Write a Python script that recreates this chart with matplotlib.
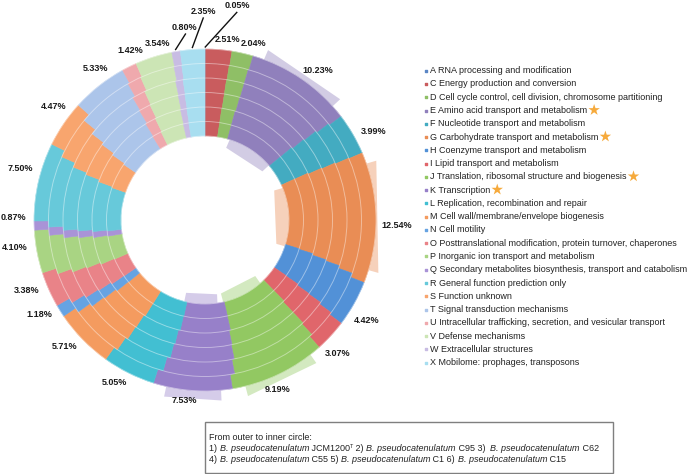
import matplotlib.pyplot as plt
import numpy as np

plt.rcParams['font.family'] = ['Liberation Sans', 'DejaVu Sans']

W, H = 696, 474
cx, cy = 205, H - 220
R = 171
hole = 84

codes = list("ACDEFGHIJKLMNOPQRSTUVWX")
names = [
    "RNA processing and modification",
    "Energy production and conversion",
    "Cell cycle control, cell division, chromosome partitioning",
    "Amino acid transport and metabolism",
    "Nucleotide transport and metabolism",
    "Carbohydrate transport and metabolism",
    "Coenzyme transport and metabolism",
    "Lipid transport and metabolism",
    "Translation, ribosomal structure and biogenesis",
    "Transcription",
    "Replication, recombination and repair",
    "Cell wall/membrane/envelope biogenesis",
    "Cell motility",
    "Posttranslational modification, protein turnover, chaperones",
    "Inorganic ion transport and metabolism",
    "Secondary metabolites biosynthesis, transport and catabolism",
    "General function prediction only",
    "Function unknown",
    "Signal transduction mechanisms",
    "Intracellular trafficking, secretion, and vesicular transport",
    "Defense mechanisms",
    "Extracellular structures",
    "Mobilome: prophages, transposons",
]
colors = [
    "#5a86c5", "#c95c5e", "#8fbf66", "#9080bc", "#43abc1", "#e98d55",
    "#5291d7", "#e0666b", "#92c862", "#9780c9", "#42bfd2", "#f49b5f",
    "#66a3e2", "#e98388", "#a9d483", "#a993d7", "#67c9da", "#f8a56e",
    "#acc5ea", "#efa9ad", "#cce5b5", "#c8bce3", "#a8def0",
]

# from outer to inner circle (%)
jcm1200 = [0.05, 2.51, 2.04, 10.23, 3.99, 12.54, 4.42, 3.07, 9.19, 7.53, 5.05, 5.71,
           1.18, 3.38, 4.10, 0.87, 7.50, 4.47, 5.33, 1.42, 3.54, 0.80, 2.35]
c95 = [0.05, 2.45, 2.00, 10.10, 4.10, 12.10, 4.60, 3.00, 9.00, 7.40, 5.20, 5.60,
       1.15, 3.30, 4.05, 0.85, 7.40, 4.40, 5.90, 1.45, 3.60, 0.80, 2.40]
c62 = [0.05, 2.40, 2.05, 9.90, 4.20, 11.90, 4.70, 3.05, 8.90, 7.30, 5.30, 5.50,
       1.20, 3.25, 4.00, 0.85, 7.30, 4.35, 6.20, 1.50, 3.70, 0.85, 2.50]
c55 = [0.05, 2.40, 2.00, 9.80, 4.25, 11.80, 4.80, 3.10, 8.80, 7.25, 5.35, 5.45,
       1.20, 3.20, 3.95, 0.85, 7.25, 4.30, 6.40, 1.50, 3.75, 0.85, 2.55]
c1 = [0.05, 2.35, 1.95, 9.70, 4.30, 11.70, 4.85, 3.10, 8.75, 7.20, 5.40, 5.40,
      1.20, 3.20, 3.95, 0.85, 7.20, 4.30, 6.50, 1.55, 3.80, 0.90, 2.60]
c15 = [0.05, 2.35, 1.95, 9.65, 4.30, 11.60, 4.90, 3.15, 8.70, 7.15, 5.45, 5.35,
       1.20, 3.15, 3.90, 0.85, 7.15, 4.25, 6.60, 1.55, 3.85, 0.90, 2.65]
rings = [jcm1200, c95, c62, c55, c1, c15]

starred = ["E", "G", "J", "K"]
# labels drawn with a leader line: (angle, radius) of the text
leader = {"A": (8.7, 217), "X": (359.5, 209), "W": (354.0, 194)}

fig = plt.figure(figsize=(W / 100, H / 100), dpi=100)
ax = fig.add_axes([0, 0, 1, 1])

width = (R - hole) / len(rings)
bounds = np.cumsum([0] + jcm1200) / sum(jcm1200) * 360


def polar(theta, r):
    t = np.radians(theta)
    return cx + r * np.sin(t), cy + r * np.cos(t)


# translucent backdrop behind the highlighted categories
for code in starred:
    i = codes.index(code)
    t1, t2 = bounds[i], bounds[i + 1]
    pts = [polar(t1, 0.44 * R), polar(t1 + 4, 1.06 * R),
           polar(t2 - 4.5, 1.06 * R), polar(t2 - 3, 0.44 * R)]
    ax.add_patch(plt.Polygon(pts, closed=True, facecolor=colors[i], alpha=0.4,
                             edgecolor='none', zorder=0.5))

for k, vals in enumerate(rings):
    wedges, _ = ax.pie(vals, colors=colors, radius=R - k * width, center=(cx, cy),
                       startangle=90, counterclock=False,
                       wedgeprops=dict(width=width, linewidth=0.4))
    for w in wedges:
        w.set_edgecolor(w.get_facecolor())
        w.set_zorder(1)

for k in range(len(rings) + 1):
    ax.add_patch(plt.Circle((cx, cy), hole + k * width, fill=False,
                            edgecolor='white', linewidth=0.7, alpha=0.4, zorder=2))

ax.set_xlim(0, W)
ax.set_ylim(0, H)
ax.set_aspect('auto')
ax.axis('off')

# percentage labels of the outer circle
for i, v in enumerate(jcm1200):
    txt = f"{v:.2f}%"
    mid = (bounds[i] + bounds[i + 1]) / 2
    if codes[i] in leader:
        ta, tr = leader[codes[i]]
        x0, y0 = polar(mid, R + 2)
        x1, y1 = polar(ta, tr - 7)
        ax.plot([x0, x1], [y0, y1], color='#111111', lw=1.0, zorder=3)
        tx, ty = polar(ta, tr)
    else:
        ang = mid + 2.5
        tx, ty = polar(ang, R + 9 + 12 * abs(np.sin(np.radians(ang))))
    ax.text(tx, ty, txt, ha='center', va='center', fontsize=6.5,
            fontweight='bold', color='#1a1a1a')

# legend
leg_texts = {}
for j, code in enumerate(codes):
    y = H - (70.7 + j * 13.27)
    ax.scatter([426], [y], marker='s', s=4, color=colors[j], zorder=3)
    leg_texts[code] = ax.text(429.5, y, f"{code} {names[j]}", ha='left', va='center',
                              fontsize=6.5, color='#222222')

fig.canvas.draw()
renderer = fig.canvas.get_renderer()
inv = ax.transData.inverted()


def right_edge(t):
    return inv.transform((t.get_window_extent(renderer).x1, 0))[0]


for code in starred:
    t = leg_texts[code]
    ax.scatter([right_edge(t) + 7.5], [t.get_position()[1] + 0.5], marker='*', s=75,
               color='#f6aa3c', edgecolors='none', zorder=3)

# strain box
ax.add_patch(plt.Rectangle((205, H - 473), 408, 51, fill=False,
                           edgecolor='#7f7f7f', linewidth=1.0))
bp = ("B. pseudocatenulatum", "italic")
box_lines = [
    [("From outer to inner circle:", "normal")],
    [("1) ", "normal"), bp, (" JCM1200", "normal"), ("T", "sup"), (" 2) ", "normal"), bp,
     (" C95 3)  ", "normal"), bp, (" C62", "normal")],
    [("4) ", "normal"), bp, (" C55 5) ", "normal"), bp, (" C1 6) ", "normal"), bp,
     (" C15", "normal")],
]
for n, parts in enumerate(box_lines):
    x = 209
    y = H - (438 + n * 10.6)
    for s, style in parts:
        if style == "sup":
            t = ax.text(x, y + 2.5, s, ha='left', va='center', fontsize=3.9,
                        color='#222222')
        else:
            t = ax.text(x, y, s, ha='left', va='center', fontsize=6.5,
                        fontstyle=style, color='#222222')
        x = right_edge(t)

fig.savefig("out.png", dpi=100)
